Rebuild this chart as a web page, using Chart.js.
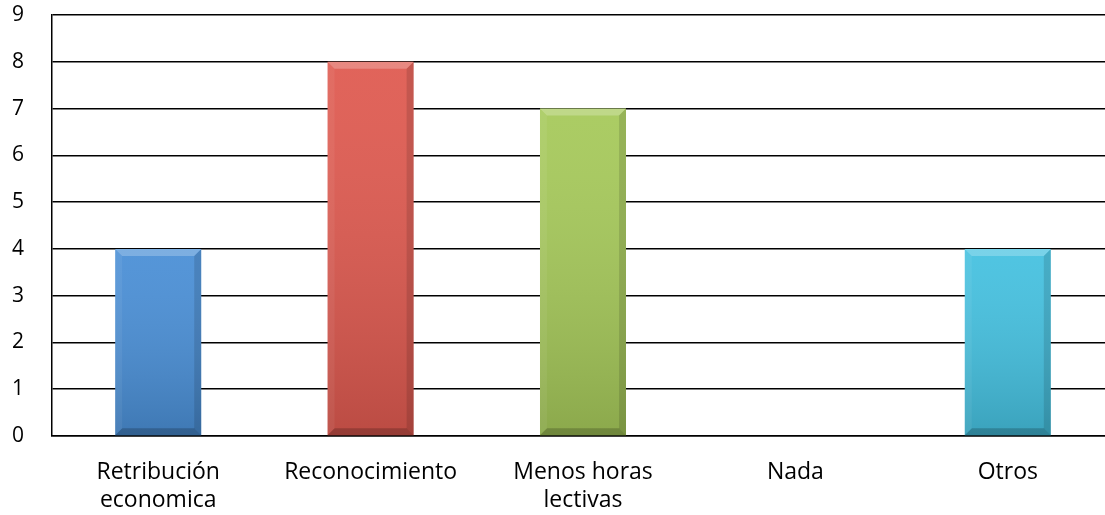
<!DOCTYPE html>
<html>
<head>
<meta charset="utf-8">
<script src="https://cdn.jsdelivr.net/npm/chart.js@4"></script>
<style>
  html, body { margin: 0; padding: 0; background: #fff; overflow: hidden; }
  #wrap { position: relative; width: 1114px; height: 515px; }
</style>
</head>
<body>
<div id="wrap"><canvas id="chart"></canvas></div>
<script>
const categories = [["Retribución", "economica"], "Reconocimiento", ["Menos horas", "lectivas"], "Nada", "Otros"];
const values = [4, 8, 7, 0, 4];
const barColors = ["#4a8fd6", "#df5a50", "#a6c95a", "#45c1e0"];
const colorIndex = [0, 1, 2, 3, 3];
const yTicks = [0, 1, 2, 3, 4, 5, 6, 7, 8, 9];

// bevel + shading on top of each bar, using the bar elements Chart.js laid out
const bevel = {
  id: "bevel",
  afterDatasetsDraw(chart) {
    const ctx = chart.ctx;
    chart.getDatasetMeta(0).data.forEach((bar) => {
      const { x, y, width, base } = bar.getProps(["x", "y", "width", "base"], true);
      const h = base - y;
      if (h < 2) return;
      const l = x - width / 2, r = x + width / 2, b = 7;
      ctx.save();
      const g = ctx.createLinearGradient(0, y, 0, base);
      g.addColorStop(0, "rgba(255,255,255,0.06)");
      g.addColorStop(1, "rgba(0,0,0,0.16)");
      ctx.fillStyle = g;
      ctx.fillRect(l, y, width, h);
      // top
      ctx.fillStyle = "rgba(255,255,255,0.24)";
      ctx.beginPath();
      ctx.moveTo(l, y); ctx.lineTo(r, y); ctx.lineTo(r - b, y + b); ctx.lineTo(l + b, y + b);
      ctx.fill();
      // left
      ctx.fillStyle = "rgba(255,255,255,0.06)";
      ctx.beginPath();
      ctx.moveTo(l, y); ctx.lineTo(l + b, y + b); ctx.lineTo(l + b, base - b); ctx.lineTo(l, base);
      ctx.fill();
      // right
      ctx.fillStyle = "rgba(0,0,0,0.12)";
      ctx.beginPath();
      ctx.moveTo(r, y); ctx.lineTo(r - b, y + b); ctx.lineTo(r - b, base - b); ctx.lineTo(r, base);
      ctx.fill();
      // bottom
      ctx.fillStyle = "rgba(0,0,0,0.2)";
      ctx.beginPath();
      ctx.moveTo(l, base); ctx.lineTo(l + b, base - b); ctx.lineTo(r - b, base - b); ctx.lineTo(r, base);
      ctx.fill();
      ctx.restore();
    });
  }
};

new Chart(document.getElementById("chart"), {
  type: "bar",
  data: {
    labels: categories,
    datasets: [{
      data: values,
      backgroundColor: colorIndex.map((i) => barColors[i]),
      borderWidth: 0,
      barPercentage: 0.405,
      categoryPercentage: 1
    }]
  },
  plugins: [bevel],
  options: {
    responsive: true,
    maintainAspectRatio: false,
    animation: false,
    layout: { padding: { top: 15, left: 12, right: 0, bottom: 0 } },
    plugins: { legend: { display: false }, tooltip: { enabled: false } },
    scales: {
      x: {
        grid: { display: false },
        border: { display: true, color: "#000", width: 1.5 },
        ticks: { color: "#000", font: { family: "Open Sans", size: 23 }, padding: 15, maxRotation: 0 },
        afterFit: (axis) => { axis.height = 79; }
      },
      y: {
        min: 0,
        max: 9,
        afterBuildTicks: (axis) => { axis.ticks = yTicks.map((v) => ({ value: v })); },
        grid: { color: "#000", lineWidth: 1.5, drawTicks: false },
        border: { display: true, color: "#000", width: 1.5 },
        ticks: { color: "#000", font: { family: "Open Sans", size: 21 }, padding: 0, crossAlign: "far" },
        afterFit: (axis) => { axis.width = 40; }
      }
    }
  }
});
</script>
</body>
</html>
